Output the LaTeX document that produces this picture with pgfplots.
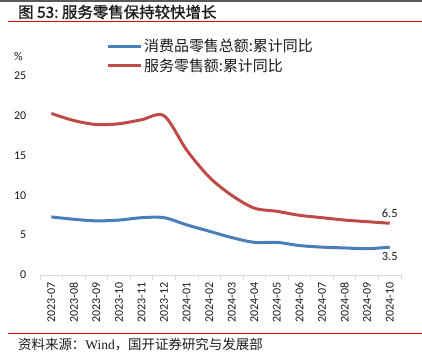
\documentclass[border=0pt]{standalone}
\usepackage{fontspec}
\usepackage{pgfplots}
\pgfplotsset{compat=1.18}
\setmainfont{Carlito}
\newfontfamily\cjk{Noto Sans CJK SC}
\newfontfamily\cjkb{Noto Sans CJK SC}[FakeBold=1.2]
\newfontfamily\serif{Liberation Serif}
\definecolor{cblue}{HTML}{4A7EBB}
\definecolor{cred}{HTML}{BE4B48}
\definecolor{axgray}{HTML}{D9D9D9}
\definecolor{txt}{HTML}{1A1A1A}
\begin{document}
\begin{tikzpicture}
\path[use as bounding box] (0,0) rectangle (422bp,357bp);
\begin{scope}[overlay]
\draw[gray!70!black, line width=1.5bp] (0,356.2bp) -- (422bp,356.2bp);
\node[anchor=west, inner sep=0pt, text=txt] at (18bp,345bp) {\cjkb\fontsize{15.5}{18}\selectfont 图 53:\ 服务零售保持较快增长};
\draw[red!85!black, line width=1bp] (8bp,335bp) -- (422bp,335bp);
\draw[red!85!black, line width=1bp] (8bp,23bp) -- (422bp,23bp);
\node[anchor=west, inner sep=0pt, text=txt] at (18bp,12bp) {\fontsize{13.5}{16}\selectfont{\cjk 资料来源：}{\serif Wind}{\cjk ，国开证券研究与发展部}};
\begin{axis}[
  at={(40bp,82bp)}, anchor=south west,
  scale only axis, width=361bp, height=199bp,
  xmin=-0.5, xmax=15.5, ymin=0, ymax=25,
  axis y line*=left, y axis line style={draw=none},
  axis x line*=bottom, x axis line style={draw=axgray, line width=0.8bp},
  ytick={0,5,...,25}, ytick style={draw=none},
  yticklabel style={font=\fontsize{12}{14}\selectfont, text=txt, xshift=-6bp},
  /pgf/number format/assume math mode=true,
  xtick={0,...,15},
  xticklabels={2023-07,2023-08,2023-09,2023-10,2023-11,2023-12,2024-01,2024-02,2024-03,2024-04,2024-05,2024-06,2024-07,2024-08,2024-09,2024-10},
  xticklabel style={rotate=90, anchor=east, font=\fontsize{12}{14}\selectfont, text=txt},
  major x tick style={draw=none},
  minor xtick={-0.5,0.5,...,15.5},
  minor x tick style={draw=axgray, line width=0.8bp},
  minor tick length=5bp, tick align=outside,
  clip=false,
  legend cell align=left,
  legend style={at={(axis description cs:0.18,1.2)}, anchor=north west, draw=none, fill=none,
    font=\cjk\fontsize{15}{17}\selectfont, text=txt, row sep=1bp, inner sep=1bp},
  legend image code/.code={\draw[#1] (0bp,0bp) -- (33bp,0bp);},
]
\addplot[cblue, line width=3bp, smooth, tension=0.5] coordinates {
(0,7.3) (1,7.0) (2,6.8) (3,6.9) (4,7.2) (5,7.2) (6,6.3) (7,5.5) (8,4.7) (9,4.1) (10,4.1) (11,3.7) (12,3.5) (13,3.4) (14,3.3) (15,3.5)};
\addlegendentry{消费品零售总额:累计同比}
\addplot[cred, line width=3bp, smooth, tension=0.5] coordinates {
(0,20.3) (1,19.4) (2,18.9) (3,19.0) (4,19.5) (5,20.0) (6,15.7) (7,12.3) (8,10.0) (9,8.4) (10,8.0) (11,7.5) (12,7.2) (13,6.9) (14,6.7) (15,6.5)};
\addlegendentry{服务零售额:累计同比}
\node[above, text=txt, font=\fontsize{12.5}{14}\selectfont, yshift=2bp] at (axis cs:15,6.5) {6.5};
\node[below, text=txt, font=\fontsize{12.5}{14}\selectfont, yshift=-2bp] at (axis cs:15,3.5) {3.5};
\node[text=txt, font=\fontsize{12}{14}\selectfont] at (axis description cs:-0.06,1.1) {\%};
\end{axis}
\end{scope}
\end{tikzpicture}
\end{document}
